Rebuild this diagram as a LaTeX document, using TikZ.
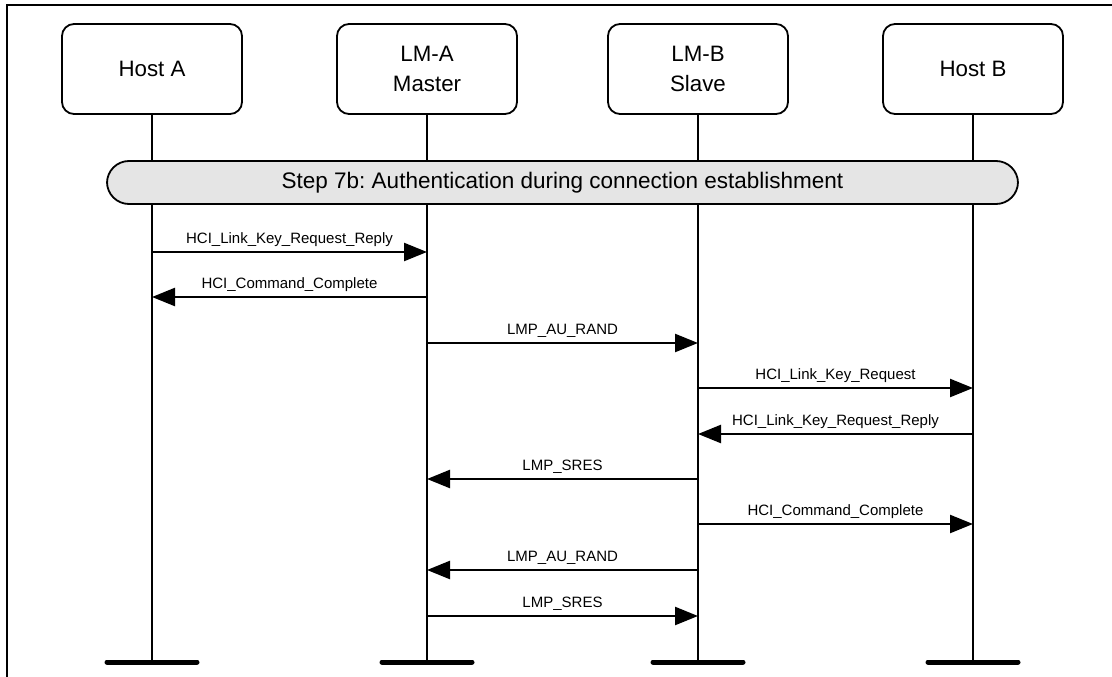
\documentclass[tikz,border=0pt]{standalone}
\usepackage{fontspec}
\setmainfont{Liberation Sans}
\usetikzlibrary{arrows.meta}
\frenchspacing

\begin{document}
\begin{tikzpicture}[x=1pt, y=-1pt, >={Triangle[length=23pt,width=18pt]},
    entity/.style={draw, line width=1.8pt, rounded corners=12pt, minimum width=180pt,
        minimum height=90pt, align=center, font=\fontsize{22.3}{30}\selectfont},
    phase/.style={draw, line width=1.8pt, fill=black!10, rounded corners=22pt,
        minimum width=911pt, minimum height=43pt, font=\fontsize{22.5}{26}\selectfont},
    msg/.style={->, line width=2.4pt},
    lbl/.style={midway, above=3pt, inner sep=1pt, font=\fontsize{15}{16}\selectfont},
    foot/.style={line width=5pt, line cap=round}]

    \useasboundingbox (0,0) rectangle (1112,677);

    % Frame
    \draw[line width=2pt] (7,677) -- (7,5) -- (1112,5);

    % Entities
    \node[entity] (hostA) at (152,69) {Host A};
    \node[entity] (lmA) at (427,69) {LM-A\\Master};
    \node[entity] (lmB) at (698,69) {LM-B\\Slave};
    \node[entity] (hostB) at (973,69) {Host B};

    % Lifeline ends
    \coordinate (endA) at (152,662);
    \coordinate (endLA) at (427,662);
    \coordinate (endLB) at (698,662);
    \coordinate (endB) at (973,662);

    % Lifelines
    \draw[line width=1.8pt] (hostA) -- (endA);
    \draw[line width=1.8pt] (lmA) -- (endLA);
    \draw[line width=1.8pt] (lmB) -- (endLB);
    \draw[line width=1.8pt] (hostB) -- (endB);

    % Bottom bars
    \draw[foot] ([xshift=-45pt]endA) -- ([xshift=45pt]endA);
    \draw[foot] ([xshift=-45pt]endLA) -- ([xshift=45pt]endLA);
    \draw[foot] ([xshift=-45pt]endLB) -- ([xshift=45pt]endLB);
    \draw[foot] ([xshift=-45pt]endB) -- ([xshift=45pt]endB);

    % Step bar
    \node[phase] (auth) at (562.5,182.5) {Step 7b: Authentication during connection establishment};

    % Messages
    \draw[msg] (hostA |- 0,252) -- (lmA |- 0,252) node[lbl] {HCI\_Link\_Key\_Request\_Reply};
    \draw[msg] (lmA |- 0,297) -- (hostA |- 0,297) node[lbl] {HCI\_Command\_Complete};
    \draw[msg] (lmA |- 0,343) -- (lmB |- 0,343) node[lbl] {LMP\_AU\_RAND};
    \draw[msg] (lmB |- 0,388) -- (hostB |- 0,388) node[lbl] {HCI\_Link\_Key\_Request};
    \draw[msg] (hostB |- 0,434) -- (lmB |- 0,434) node[lbl] {HCI\_Link\_Key\_Request\_Reply};
    \draw[msg] (lmB |- 0,479) -- (lmA |- 0,479) node[lbl] {LMP\_SRES};
    \draw[msg] (lmB |- 0,524) -- (hostB |- 0,524) node[lbl] {HCI\_Command\_Complete};
    \draw[msg] (lmB |- 0,570) -- (lmA |- 0,570) node[lbl] {LMP\_AU\_RAND};
    \draw[msg] (lmA |- 0,616) -- (lmB |- 0,616) node[lbl] {LMP\_SRES};

\end{tikzpicture}
\end{document}
